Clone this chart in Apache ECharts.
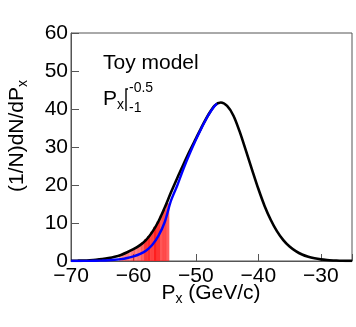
<!DOCTYPE html>
<html>
<head>
	<meta charset="utf-8">
	<title>Toy model</title>
	<script src="https://cdn.jsdelivr.net/npm/echarts@6/dist/echarts.min.js"></script>
	<style type="text/css">
		body { margin: 0; background: #fff; }
		#chart { width: 356px; height: 327px; }
	</style>
</head>
<body>
<div id="chart"></div>
<script type="text/javascript">

	// ================= data
	var blackX = [-70, -69, -68, -67, -66, -65, -64, -63, -62, -61, -60, -59, -58, -57, -56, -55, -54, -53, -52, -51,
		-50, -49, -48, -47, -46, -45, -44, -43, -42, -41, -40, -39, -38, -37, -36, -35, -34, -33, -32, -31,
		-30, -29, -28, -27, -26, -25];
	var blackY = [0.05, 0.08, 0.12, 0.2, 0.32, 0.5, 0.75, 1.1, 1.6, 2.3, 3.1, 4.1, 5.5, 7.6, 10.4, 14.0, 18.0, 21.8, 25.4, 28.9,
		32.2, 35.5, 38.5, 40.9, 41.7, 40.8, 38.3, 34.1, 29.1, 24.0, 19.0, 14.5, 10.8, 7.8, 5.5, 3.8, 2.6, 1.7, 1.1, 0.7,
		0.42, 0.25, 0.15, 0.08, 0.04, 0.02];

	var blueX = [-70, -69, -68, -67, -66, -65, -64, -63, -62, -61, -60, -59, -58, -57, -56, -55, -54, -53, -52, -51,
		-50, -49, -48, -47, -46.6];
	var blueY = [0.0, 0.01, 0.02, 0.04, 0.07, 0.12, 0.2, 0.32, 0.5, 0.8, 1.2, 1.8, 2.7, 4.2, 6.6, 10.2, 15.8, 19.8, 24.2, 28.2,
		31.9, 35.3, 38.4, 40.8, 41.4];

	// red bins: left edges, common width, heights, shade
	var redLeft = [-62.3, -61.8, -61.3, -60.8, -60.3, -59.8, -59.3, -58.8, -58.3, -57.8, -57.3, -56.8, -56.3, -55.8, -55.3, -54.8];
	var redWidth = 0.5;
	var redH = [1.6, 1.9, 2.3, 2.7, 3.1, 3.6, 4.2, 4.9, 5.7, 6.6, 7.7, 9.0, 10.4, 12.0, 13.6, 15.2];
	var redAlpha = [0.45, 0.5, 0.55, 0.5, 0.6, 0.55, 0.6, 0.7, 0.9, 0.95, 0.85, 1, 0.9, 0.75, 0.8, 0.7];

	var xTicks = [-70, -60, -50, -40, -30];


	function pairs(xs, ys) {
		var out = [];
		for (var i = 0; i < xs.length; i++) out.push([xs[i], ys[i]]);
		return out;
	}

	var redData = [];
	for (var i = 0; i < redLeft.length; i++) {
		redData.push([redLeft[i], redLeft[i] + redWidth, redH[i], redAlpha[i]]);
	}

	var font = 'Liberation Sans';

	var myChart = echarts.init(document.getElementById('chart'));
	var option = {
		animation: false,
		grid: {
			left: 71, right: 4, top: 33, bottom: 66,
			show: true, borderColor: '#555', borderWidth: 1
		},
		xAxis: {
			type: 'value',
			min: -70, max: -25, interval: 10,
			splitLine: { show: false },
			axisLine: { lineStyle: { color: '#555' } },
			axisTick: { inside: true, length: 7, lineStyle: { color: '#555' } },
			axisLabel: {
				color: '#000', fontSize: 21, fontFamily: font, margin: 5,
				formatter: function(v) {
					if (xTicks.indexOf(v) < 0) return '';
					return String(v).replace('-', '\u2212');
				}
			}
		},
		yAxis: {
			type: 'value',
			min: 0, max: 60, interval: 10,
			splitLine: { show: false },
			axisLine: { lineStyle: { color: '#555' } },
			axisTick: { inside: true, length: 8, lineStyle: { color: '#555' } },
			axisLabel: { color: '#000', fontSize: 21, fontFamily: font, margin: 3 }
		},
		graphic: [
			{
				type: 'text', x: 17, y: 136, rotation: Math.PI / 2,
				style: {
					text: '{m|(1/N)dN/dP}{s|x}',
					align: 'center', verticalAlign: 'middle',
					rich: {
						m: { fontSize: 21, fontFamily: font, fill: '#000', lineHeight: 26 },
						s: { fontSize: 14, fontFamily: font, fill: '#000', lineHeight: 14, verticalAlign: 'bottom' }
					}
				}
			},
			{
				type: 'text', x: 211, y: 293,
				style: {
					text: '{m|P}{s|x}{m| (GeV/c)}',
					align: 'center', verticalAlign: 'middle',
					rich: {
						m: { fontSize: 21, fontFamily: font, fill: '#000', lineHeight: 26 },
						s: { fontSize: 14, fontFamily: font, fill: '#000', lineHeight: 14, verticalAlign: 'bottom' }
					}
				}
			},
			{
				type: 'text', x: 103, y: 63,
				style: { text: 'Toy model', fontSize: 21, fontFamily: font, fill: '#000', verticalAlign: 'middle' }
			},
			{
				type: 'text', x: 103, y: 99,
				style: { text: 'P', fontSize: 21, fontFamily: font, fill: '#000', verticalAlign: 'middle' }
			},
			{
				type: 'text', x: 117, y: 105,
				style: { text: 'x', fontSize: 14, fontFamily: font, fill: '#000', verticalAlign: 'middle' }
			},
			{
				type: 'polyline',
				shape: { points: [[128, 89], [126, 89], [126, 111]] },
				style: { stroke: '#000', lineWidth: 1.4, fill: null }
			},
			{
				type: 'text', x: 129, y: 88,
				style: { text: '-0.5', fontSize: 14, fontFamily: font, fill: '#000', verticalAlign: 'middle' }
			},
			{
				type: 'text', x: 129, y: 108,
				style: { text: '-1', fontSize: 14, fontFamily: font, fill: '#000', verticalAlign: 'middle' }
			}
		],
		series: [
			{
				type: 'custom',
				data: redData,
				renderItem: function(params, api) {
					var p0 = api.coord([api.value(0), 0]);
					var p1 = api.coord([api.value(1), api.value(2)]);
					return {
						type: 'rect',
						shape: { x: p0[0], y: p1[1], width: p1[0] - p0[0] + 0.3, height: p0[1] - p1[1] },
						style: { fill: 'rgba(255,30,30,' + api.value(3) + ')' }
					};
				},
				z: 1
			},
			{
				type: 'line',
				data: pairs(blackX, blackY),
				smooth: 0.3,
				showSymbol: false,
				lineStyle: { color: '#000', width: 2.6 },
				z: 2
			},
			{
				type: 'line',
				data: pairs(blueX, blueY),
				smooth: 0.3,
				showSymbol: false,
				lineStyle: { color: '#0000ff', width: 2.4 },
				z: 3
			}
		]
	};
	myChart.setOption(option);

</script>
</body>
</html>
